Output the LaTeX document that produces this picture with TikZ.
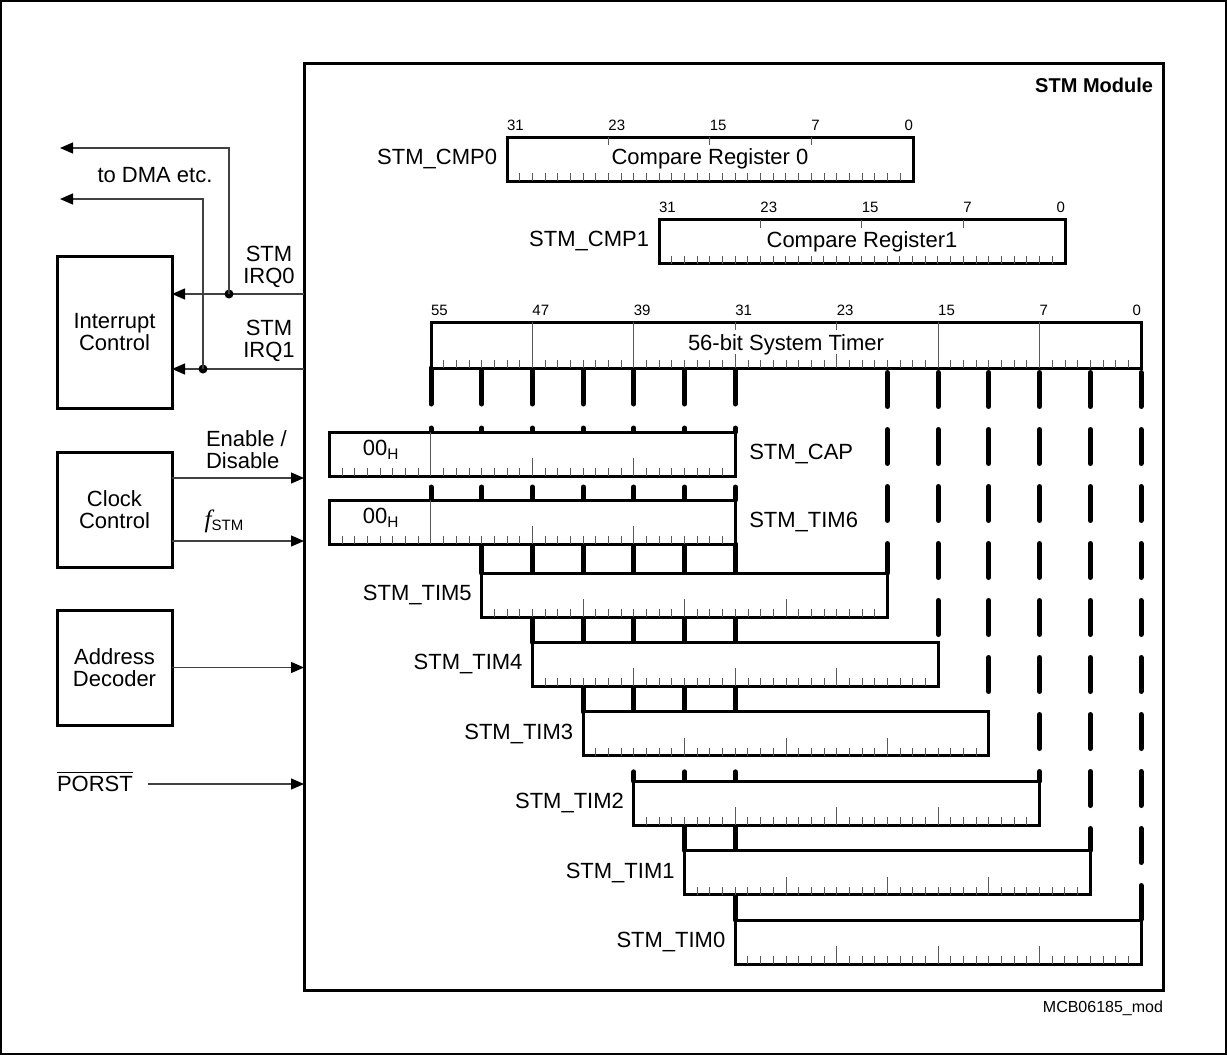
\documentclass[tikz,border=0pt]{standalone}
\usepackage{fontspec}
\setmainfont{Liberation Sans}
\newfontfamily\fserif{Liberation Serif}
\usetikzlibrary{positioning,arrows.meta,backgrounds}

\begin{document}
\begin{tikzpicture}[x=1pt,y=-1pt,
    every node/.style={inner sep=0pt, outer sep=0pt, font=\fontsize{22}{22}\selectfont},
    blk/.style={draw, line width=3pt, minimum width=115pt, align=center},
    reg/.style={draw, line width=3pt, fill=white, minimum height=44pt},
    bitno/.style={font=\fontsize{15}{15}\selectfont},
    tick/.style={line width=1pt, black!65},
    sig/.style={line width=1.3pt, black!75, -{Triangle[length=13pt,width=11pt,color=black]}},
    link/.style={line width=5pt, line cap=round},
    tap/.style={link, dash pattern=on 34pt off 23pt, dash phase=52.5pt},
    jdot/.style={circle, fill=black, minimum size=9pt}]

    \useasboundingbox (0,0) rectangle (1227,1055);
    \draw[line width=1.5pt] (1,1) rectangle (1226,1054);

    % Draw the module box
    \node[draw, line width=3pt, minimum width=859pt, minimum height=927pt, anchor=north west] (stm) at (304,63) {};
    \node[anchor=east, font=\fontsize{20}{20}\selectfont\bfseries] (stmtitle) at ([xshift=-10pt,yshift=-22pt]stm.north east) {STM Module};
    \node[anchor=east, font=\fontsize{16}{16}\selectfont] (figid) at ([yshift=-18pt]stm.south east) {MCB06185\_mod};

    % Blocks on the left
    \node[blk, minimum height=152pt] (intctrl) at (114.5,332) {Interrupt\\Control};
    \node[blk, minimum height=115pt] (clkctrl) at (114.5,509.5) {Clock\\Control};
    \node[blk, minimum height=115pt] (addrdec) at (114.5,667.5) {Address\\Decoder};

    % Interrupt lines
    \coordinate (irq0) at (304,294);
    \coordinate (irq1) at (304,369);
    \draw[sig] (irq0) -- (irq0 -| intctrl.east);
    \draw[sig] (irq1) -- (irq1 -| intctrl.east);
    \node[jdot] (j0) at (229,294) {};
    \node[jdot] (j1) at (203,369) {};
    \coordinate (dma0) at (60,148);
    \coordinate (dma1) at (60,199);
    \draw[sig] (j0.center) |- (dma0);
    \draw[sig] (j1.center) |- (dma1);
    \node (dmalbl) at (155,175) {to DMA etc.};
    \node[align=center] (irq0lbl) at (269,267) {STM\\IRQ0};
    \node[align=center] (irq1lbl) at (269,341) {STM\\IRQ1};

    % Clock, address, reset
    \coordinate (en) at ([yshift=31.5pt]clkctrl.east);
    \coordinate (fclk) at ([yshift=-31.5pt]clkctrl.east);
    \draw[sig] (en) -- (en -| stm.west);
    \draw[sig] (fclk) -- (fclk -| stm.west);
    \node[align=left, anchor=west] (enlbl) at (206,450) {Enable /\\Disable};
    \node (fstm) at (224,521) {{\fserif\itshape\fontsize{25}{25}\selectfont f}{\fontsize{15}{15}\selectfont\raisebox{-3pt}{STM}}};
    \draw[sig] (addrdec.east) -- (addrdec.east -| stm.west);
    \node[anchor=west] (porst) at (57,784) {PORST};
    \draw[line width=1.2pt] ([yshift=4pt]porst.north west) -- ([yshift=4pt]porst.north east);
    \draw[sig, shorten <=15pt] (porst.east) -- (porst.east -| stm.west);

    % Compare registers and timer
    \node[reg, minimum width=406pt] (cmp0) at (710,159) {Compare Register 0};
    \node[reg, minimum width=406pt] (cmp1) at (862,241.5) {Compare Register1};
    \node[left=10pt of cmp0] (lblcmp0) {STM\_CMP0};
    \node[left=10pt of cmp1] (lblcmp1) {STM\_CMP1};
    \node[reg, minimum width=710pt, minimum height=46pt] (timer) at (786,345) {56-bit System Timer};

    % Capture and timer registers
    \node[reg, minimum width=405.7pt] (cap) at (532.4,454) {};
    \node[reg, minimum width=405.7pt] (tim6) at (532.4,522) {};
    \node[right=14pt of cap] (lblcap) {STM\_CAP};
    \node[right=14pt of tim6] (lbltim6) {STM\_TIM6};
    \node (caph) at (381,450) {00\textsubscript{H}};
    \node (tim6h) at (381,518) {00\textsubscript{H}};
    \foreach \n/\y in {0/942,1/872.6,2/803.2,3/733.8,4/664.4,5/595} {
        \node[reg, minimum width=405.7pt] (tim\n) at (938.14-50.714*\n,\y) {};
        \node[left=10pt of tim\n] (lbltim\n) {STM\_TIM\n};
    }

    % Bit numbers
    \foreach \i/\t in {0/31,8/23,16/15,24/7} {
        \node[bitno, anchor=base west] (cmp0n\t) at ([xshift=\i*12.68pt,yshift=7pt]cmp0.north west) {\t};
        \node[bitno, anchor=base west] (cmp1n\t) at ([xshift=\i*12.68pt,yshift=7pt]cmp1.north west) {\t};
    }
    \node[bitno, anchor=base east] (cmp0n0) at ([yshift=7pt]cmp0.north east) {0};
    \node[bitno, anchor=base east] (cmp1n0) at ([yshift=7pt]cmp1.north east) {0};
    \foreach \i/\t in {0/55,8/47,16/39,24/31,32/23,40/15,48/7}
        \node[bitno, anchor=base west] (timn\t) at ([xshift=\i*12.68pt,yshift=7pt]timer.north west) {\t};
    \node[bitno, anchor=base east] (timn0) at ([yshift=7pt]timer.north east) {0};

    % Bit ticks
    \foreach \r in {cmp0,cmp1,cap,tim6,tim0,tim1,tim2,tim3,tim4,tim5}
        \foreach \i in {1,...,31}
            \draw[tick] ([xshift=\i*12.68pt]\r.south west) -- ++(0,-8);
    \foreach \r in {cmp0,cmp1}
        \foreach \i in {8,16,24}
            \draw[tick] ([xshift=\i*12.68pt]\r.north west) -- ++(0,8);
    \foreach \r in {tim0,tim1,tim2,tim3,tim4,tim5}
        \foreach \i in {8,16,24}
            \draw[tick] ([xshift=\i*12.68pt]\r.south west) -- ++(0,-18);
    \foreach \r in {cap,tim6} {
        \draw[tick] ([xshift=8*12.68pt]\r.south west) -- ([xshift=8*12.68pt]\r.north west);
        \foreach \i in {16,24}
            \draw[tick] ([xshift=\i*12.68pt]\r.south west) -- ++(0,-18);
    }
    \foreach \i in {1,...,55}
        \draw[tick] ([xshift=\i*12.68pt]timer.south west) -- ++(0,-8);
    \foreach \i in {8,16,40,48}
        \draw[tick] ([xshift=\i*12.68pt]timer.south west) -- ([xshift=\i*12.68pt]timer.north west);
    \foreach \i in {24,32} {
        \draw[tick] ([xshift=\i*12.68pt]timer.south west) -- ++(0,-14);
        \draw[tick] ([xshift=\i*12.68pt]timer.north west) -- ++(0,8);
    }

    % Taps from the system timer
    \foreach \k in {0,1,2,3,4,5,8,9,10,11,12,13,14}
        \coordinate (tap\k) at ([xshift=-\k*50.714pt]timer.south east);
    \begin{scope}[on background layer]
        % dashed taps on the right
        \foreach \k/\r in {0/tim0,1/tim1,2/tim2,3/tim3,4/tim4,5/tim5}
            \draw[tap] (tap\k) -- (tap\k |- \r.north);
        % taps on the left, stepping down the registers
        \foreach \k in {8,9,10,11,12,13,14} {
            \draw[link] (tap\k) -- ++(0,36);
            \draw[link, shorten <=60pt] (tap\k) -- (tap\k |- cap.north);
            \draw[link, shorten <=11pt] (tap\k |- cap.south) -- (tap\k |- tim6.north);
        }
        \foreach \k in {8,9,10,11,12,13}
            \draw[link] (tap\k |- tim6.south) -- (tap\k |- tim5.north);
        \foreach \k in {8,9,10,11,12}
            \draw[link] (tap\k |- tim5.south) -- (tap\k |- tim4.north);
        \foreach \k in {8,9,10,11}
            \draw[link] (tap\k |- tim4.south) -- (tap\k |- tim3.north);
        \foreach \k in {8,9,10}
            \draw[link, shorten <=16pt] (tap\k |- tim3.south) -- (tap\k |- tim2.north);
        \foreach \k in {8,9}
            \draw[link] (tap\k |- tim2.south) -- (tap\k |- tim1.north);
        \draw[link] (tap8 |- tim1.south) -- (tap8 |- tim0.north);
    \end{scope}
\end{tikzpicture}
\end{document}
